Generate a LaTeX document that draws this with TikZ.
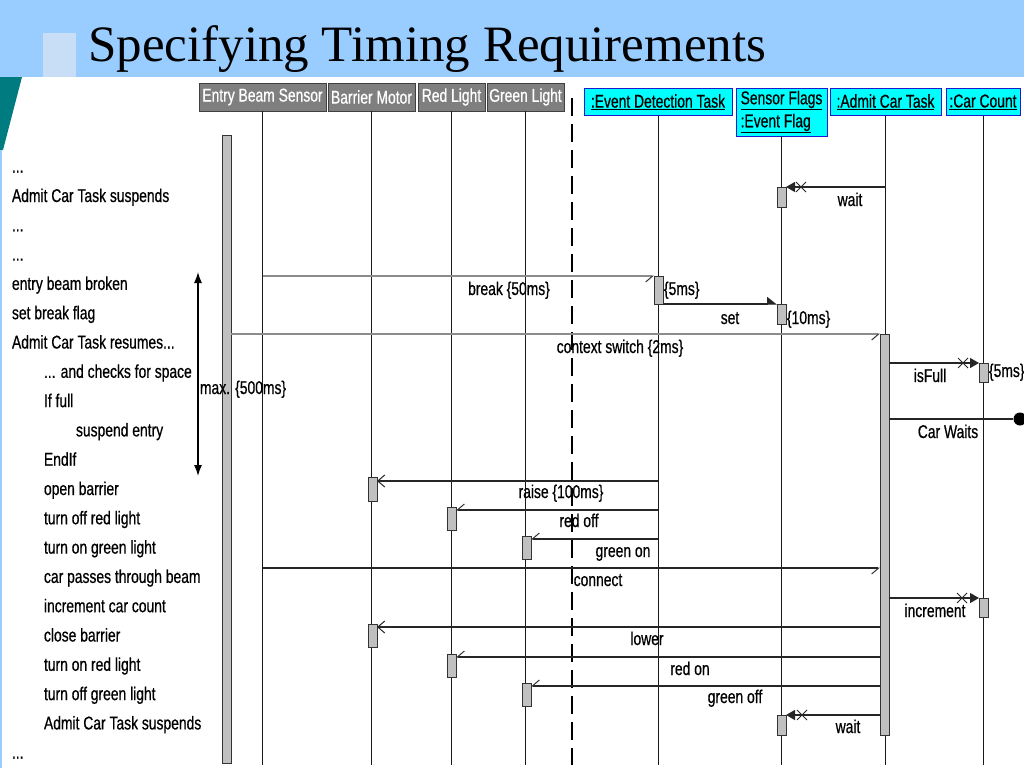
\documentclass[tikz,border=0pt]{standalone}
\usepackage{fontspec}
\setmainfont{Liberation Sans}[FakeStretch=0.75,FakeBold=0.6]
\newfontfamily\titlefont{Liberation Serif}
\usetikzlibrary{arrows.meta,shapes.misc}
\definecolor{band}{HTML}{99CCFF}
\definecolor{sq}{HTML}{C8DEF6}
\definecolor{teal2}{HTML}{007B80}
\definecolor{hdrgray}{HTML}{7F7F7F}
\definecolor{objcyan}{HTML}{00FFFF}
\definecolor{objblue}{HTML}{1A1AD0}
\definecolor{actgray}{HTML}{C0C0C0}
\begin{document}
\begin{tikzpicture}[x=1pt,y=-1pt,
  txt/.style={font=\fontsize{18.5}{20}\selectfont, inner sep=0pt, outer sep=0pt},
  lft/.style={txt, anchor=base west},
  lbl/.style={txt, anchor=base},
  hdr/.style={txt, draw=black!75, fill=hdrgray, text=white, line width=1pt, minimum height=28pt},
  obj/.style={txt, draw=objblue, fill=objcyan, line width=1pt, minimum height=27pt},
  act/.style={draw=black!80, fill=actgray, line width=0.8pt, minimum width=9pt, inner sep=0pt, outer sep=0pt, anchor=north},
  life/.style={draw=black!90, line width=0.9pt},
  msg/.style={draw=black!85, line width=1.3pt},
  gmsg/.style={draw=black!45, line width=2.6pt},
  halfstick/.style={-{Straight Barb[right,length=7pt,width=12pt,black!80,line width=1pt]}},
  openstick/.style={-{Straight Barb[length=7pt,width=12pt,line width=1pt]}},
  halfwedge/.style={-{Triangle[left,length=9pt,width=14pt]}},
  syncx/.style={-{Triangle[length=9pt,width=10pt]}},
  xmark/.style={draw=black!85, cross out, line width=1pt, minimum size=9pt, inner sep=0pt}
]
\useasboundingbox (0,0) rectangle (1024,768);
% slide decoration
\fill[band] (0,0) rectangle (1024,77);
\fill[sq] (43,33) rectangle (76,77);
\fill[teal2] (0,77) -- (22,77) -- (3,150) -- (0,150) -- cycle;
\draw[band, line width=2pt] (1,150) -- (1,768);
\node[anchor=base west, inner sep=0pt, font=\titlefont\fontsize{51}{51}\selectfont] (title) at (88,62) {Specifying Timing Requirements};

% headers
\node[hdr, minimum width=127pt] (eb) at (262.5,97) {Entry Beam Sensor};
\node[hdr, minimum width=87pt] (bm) at (371.5,97) {Barrier Motor};
\node[hdr, minimum width=67pt] (rl) at (451.5,97) {Red Light};
\node[hdr, minimum width=77pt] (gl) at (525.5,97) {Green Light};
\node[obj, minimum width=148pt] (ed) at (658,102) {\underline{:Event Detection Task}};
\node[obj, minimum width=91pt, minimum height=48pt, align=left, font=\fontsize{18.5}{23}\selectfont] (sf) at (781.5,112) {\underline{Sensor Flags}\\\underline{:Event Flag}};
\node[obj, minimum width=111pt] (ac) at (885.5,102) {\underline{:Admit Car Task}};
\node[obj, minimum width=74pt] (cc) at (983,102) {\underline{:Car Count}};

% lifelines
\foreach \n in {eb,bm,rl,gl,ed,sf,ac,cc} \draw[life] (\n.south) -- (\n.south |- 0,765);
\draw[black, line width=1.4pt, dash pattern=on 18pt off 8pt] (572,98) -- (572,765);

% activation bars
\node[act, minimum height=628pt] (lbar) at (226.5,135) {};
\node[act, minimum height=20pt] (sf1) at (781.5,187) {};
\node[act, minimum height=28pt] (ed1) at (658.5,276) {};
\node[act, minimum height=20pt] (sf2) at (781.5,304) {};
\node[act, minimum height=401pt] (ac1) at (884.5,334) {};
\node[act, minimum height=19pt] (cc1) at (983.5,363) {};
\node[act, minimum height=24pt] (bm1) at (372.5,477) {};
\node[act, minimum height=23pt] (rl1) at (451.5,507) {};
\node[act, minimum height=23pt] (gl1) at (526.5,536) {};
\node[act, minimum height=19pt] (cc2) at (983.5,598) {};
\node[act, minimum height=23pt] (bm2) at (372.5,624) {};
\node[act, minimum height=23pt] (rl2) at (451.5,654) {};
\node[act, minimum height=23pt] (gl2) at (526.5,683) {};
\node[act, minimum height=20pt] (sf3) at (781.5,715) {};

% messages
\draw[msg, syncx] (ac |- 0,187) -- (sf1.north east);
\node[xmark] (x1) at (801,187) {};
\node[lbl] (lwait1) at (850,206) {wait};

\draw[gmsg, halfstick] (eb |- 0,276) -- (ed1.north west);
\node[lbl] (lbreak) at (509,295) {break \{50ms\}};
\node[lft] (l5ms) at (664,295) {\{5ms\}};

\draw[msg, halfwedge] (ed1.south east) -- (sf2.north west);
\node[lbl] (lset) at (730,324) {set};
\node[lft] (l10ms) at (787,324) {\{10ms\}};

\draw[gmsg, halfstick] (lbar.east |- 0,334) -- (ac1.north west);
\node[lbl] (lctx) at (620,353) {context switch \{2ms\}};

\draw[msg, syncx] (ac1.east |- 0,363) -- (cc1.north west);
\node[xmark] (x2) at (963,363) {};
\node[lbl] (lisfull) at (930,382) {isFull};
\node[lft] (l5ms2) at (989,377) {\{5ms\}};

\node[circle, fill=black, minimum size=13pt, inner sep=0pt] (cw) at (1020,419) {};
\draw[msg] (ac1.east |- 0,419) -- (cw);
\node[lbl] (lcw) at (948,438) {Car Waits};

\draw[msg, openstick] (ed |- 0,481) -- ([yshift=-4pt]bm1.north east);
\node[lbl] (lraise) at (561,498) {raise \{100ms\}};
\draw[msg, halfstick] (ed |- 0,510) -- ([yshift=-3pt]rl1.north east);
\node[lbl] (lredoff) at (579,527) {red off};
\draw[msg, halfstick] (ed |- 0,539) -- ([yshift=-3pt]gl1.north east);
\node[lbl] (lgreenon) at (623,557) {green on};

\draw[msg, halfstick] (eb |- 0,568) -- (ac1.west |- 0,568);
\node[lbl] (lconnect) at (598,586) {connect};

\draw[msg, syncx] (ac1.east |- 0,598) -- (cc2.north west);
\node[xmark] (x3) at (962,598) {};
\node[lbl] (linc) at (935,617) {increment};

\draw[msg, openstick] (ac1.west |- 0,627) -- ([yshift=-3pt]bm2.north east);
\node[lbl] (llower) at (647,645) {lower};
\draw[msg, halfstick] (ac1.west |- 0,657) -- ([yshift=-3pt]rl2.north east);
\node[lbl] (lredon) at (690,675) {red on};
\draw[msg, halfstick] (ac1.west |- 0,686) -- ([yshift=-3pt]gl2.north east);
\node[lbl] (lgreenoff) at (735,703) {green off};

\draw[msg, syncx] (ac1.west |- 0,715) -- (sf3.north east);
\node[xmark] (x4) at (802,715) {};
\node[lbl] (lwait2) at (848,733) {wait};

% max bound
\coordinate (mtop) at (198,272);
\coordinate (mbot) at (198,476);
\draw[black, line width=1.3pt, {Latex[length=11pt,width=8pt]}-{Latex[length=11pt,width=8pt]}] (mtop) -- (mbot);
\node[lft] (lmax) at (200,394) {max. \{500ms\}};

% left description
\node[lft] (d0) at (12,172.7) {...};
\node[lft] (d1) at (12,202.0) {Admit Car Task suspends};
\node[lft] (d2) at (12,231.3) {...};
\node[lft] (d3) at (12,260.6) {...};
\node[lft] (d4) at (12,289.9) {entry beam broken};
\node[lft] (d5) at (12,319.2) {set break flag};
\node[lft] (d6) at (12,348.5) {Admit Car Task resumes...};
\node[lft] (d7) at (44,377.8) {... and checks for space};
\node[lft] (d8) at (44,407.1) {If full};
\node[lft] (d9) at (76,436.4) {suspend entry};
\node[lft] (d10) at (44,465.7) {EndIf};
\node[lft] (d11) at (44,495.0) {open barrier};
\node[lft] (d12) at (44,524.3) {turn off red light};
\node[lft] (d13) at (44,553.6) {turn on green light};
\node[lft] (d14) at (44,582.9) {car passes through beam};
\node[lft] (d15) at (44,612.2) {increment car count};
\node[lft] (d16) at (44,641.5) {close barrier};
\node[lft] (d17) at (44,670.8) {turn on red light};
\node[lft] (d18) at (44,700.1) {turn off green light};
\node[lft] (d19) at (44,729.4) {Admit Car Task suspends};
\node[lft] (d20) at (12,758.7) {...};
\end{tikzpicture}
\end{document}
